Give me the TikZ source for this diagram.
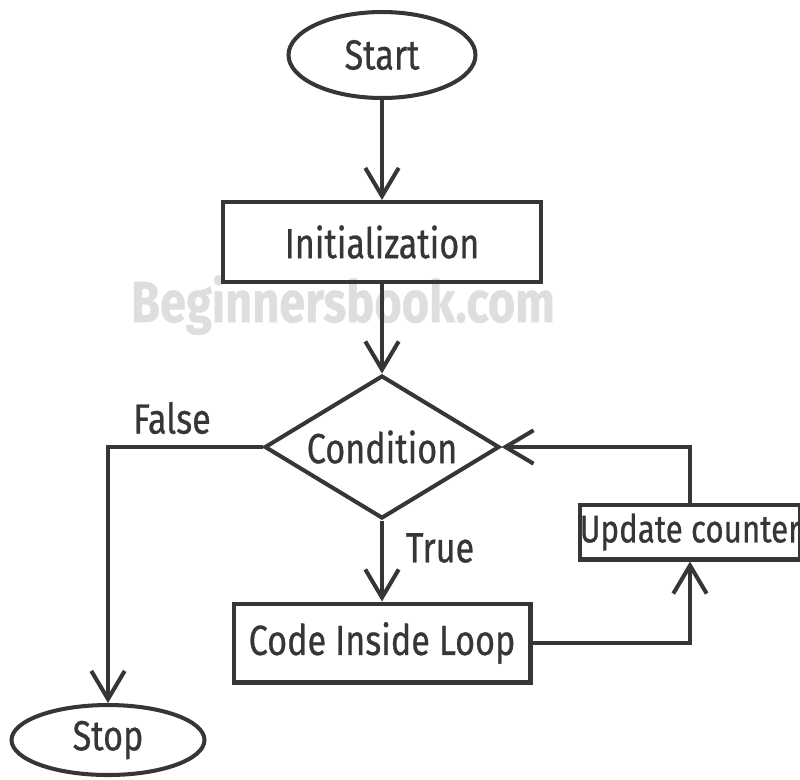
\documentclass[tikz,border=0pt]{standalone}
\usepackage{fontspec}
\setmainfont{Fira Sans}[FakeStretch=0.81, FakeBold=0.6]
\usetikzlibrary{positioning,calc,arrows.meta,shapes.geometric}
\definecolor{ink}{HTML}{363636}
\definecolor{wmgray}{HTML}{DEDEDE}

\begin{document}
\begin{tikzpicture}[x=0.02cm, y=-0.02cm, line width=2.3pt, >={Straight Barb[length=16pt,width=19pt]},
	every node/.style={text=ink, font=\fontsize{24}{28}\selectfont, inner sep=0pt},
	term/.style={draw=ink, ellipse},
	stepbox/.style={draw=ink, rectangle},
	cond/.style={draw=ink, diamond, aspect=1.64, minimum width=4.7cm, minimum height=2.86cm},
	flow/.style={draw=ink, ->, line join=miter}]
	\useasboundingbox (0,0) rectangle (800,779);
	\clip (0,0) rectangle (800,779);
	% watermark
	\node[text=wmgray, font=\fontsize{33}{36}\selectfont\bfseries] (mark) at (343,305) {Beginnersbook.com};

	\node[term, minimum width=3.74cm, minimum height=1.72cm] (start) at (382,55) {Start};
	\node[stepbox, minimum width=6.36cm, minimum height=1.6cm] (init) at (382,242) {Initialization};
	\node[cond] (check) at (382,447) {Condition};
	\node[stepbox, minimum width=5.94cm, minimum height=1.58cm] (body) at (382,643) {Code Inside Loop};
	\node[stepbox, minimum width=4.36cm, minimum height=1.1cm, font=\fontsize{22}{26}\selectfont] (update) at (690,532) {Update counter};
	\node[term, minimum width=3.86cm, minimum height=1.4cm] (stop) at (108,740) {Stop};

	\node (false) at (172,418) {False};
	\node (true) at (440,548) {True};

	\draw[flow] (start) -- (init);
	\draw[flow] (init) -- (check);
	\draw[flow] (check.south) -- (body.north);
	\draw[flow] (check.west) -| (stop.north);
	\draw[flow] (body.east) -| (update.south);
	\draw[flow] (update.north) |- (check.east);
\end{tikzpicture}
\end{document}
